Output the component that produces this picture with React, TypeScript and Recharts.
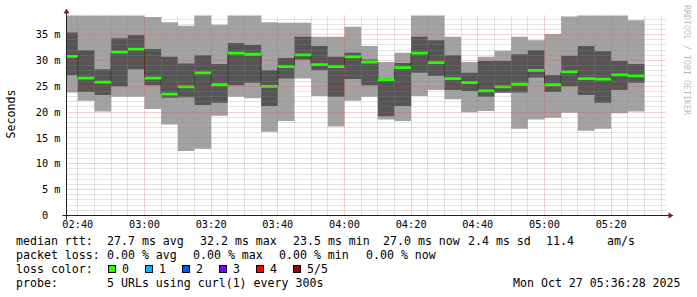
import React from 'react';
import { ComposedChart, Area, Line, XAxis, YAxis, CartesianGrid } from 'recharts';

// ---- data (5-minute bins, 5 pings each: min, 2nd, median, 4th, max) ----
const binStart = ['02:35','02:40','02:45','02:50','02:55','03:00','03:05','03:10','03:15','03:20','03:25','03:30','03:35','03:40','03:45','03:50','03:55','04:00','04:05','04:10','04:15','04:20','04:25','04:30','04:35','04:40','04:45','04:50','04:55','05:00','05:05','05:10','05:15','05:20','05:25'];
const lastBinEnd = '05:30';
const rttMax = [40,40,40,40,40,38.4,37.4,36.7,40,36.9,40,40,37.4,37.3,37.3,34.6,34.6,36.5,32.8,29.7,31.5,40,40,34.6,29.7,30.7,31.9,34.6,33.9,35.1,38.5,40,40,40,37.8];
const rttP4 = [35.4,32.0,28.3,34.3,34.9,32.2,30.7,29.4,31.0,29.3,33.4,33.0,28.1,30.5,34.6,32.8,30.7,31.5,30.2,26.5,29.5,34.6,33.9,31.0,27.6,29.9,29.9,31.2,32.0,27.2,30.9,32.8,31.8,29.9,29.3];
const rttMedian = [30.8,26.6,25.8,31.6,32.2,26.6,23.5,24.9,27.6,25.3,31.4,31.2,25.0,28.8,31.1,29.2,28.8,30.7,29.7,26.3,28.6,31.4,29.6,26.5,25.7,24.1,24.9,25.4,28.1,25.3,27.8,26.5,26.4,27.2,27.0];
const rttP2 = [27.2,23.9,23.3,25.0,28.3,25.2,22.8,22.9,21.4,21.8,25.2,25.7,21.2,26.5,30.2,28.1,23.0,26.4,25.2,19.2,21.2,27.6,27.0,24.3,24.1,23.0,23.8,23.8,26.7,23.9,25.0,23.3,21.8,24.3,25.7];
const rttMin = [23.8,22.2,20.1,23.0,23.0,20.6,17.6,12.5,12.9,19.3,23.0,22.7,16.2,18.3,26.5,23.1,17.2,22.2,23.0,18.6,18.3,23.1,24.3,22.5,20.0,20.2,23.7,16.8,18.6,18.9,19.9,16.4,16.8,19.8,20.1];

// ---- axes ----
const viewStart = 156.61; // minutes since midnight (02:36:37)
const viewEnd = 336.61;   // 05:36:37
const yMax = 38.7;
const xTickLabels = ['02:40','03:00','03:20','03:40','04:00','04:20','04:40','05:00','05:20'];
const yTicks = [0, 5, 10, 15, 20, 25, 30, 35];
const yTickLabels = ['0\u00a0\u00a0', '5 m', '10 m', '15 m', '20 m', '25 m', '30 m', '35 m'];

// ---- legend ----
const statsLine1 = [
  { x: 16, s: 'median rtt:' }, { x: 107, s: '27.7 ms avg' }, { x: 200, s: '32.2 ms max' },
  { x: 293, s: '23.5 ms min' }, { x: 383, s: '27.0 ms now' }, { x: 468, s: '2.4 ms sd' },
  { x: 546, s: '11.4' }, { x: 607, s: 'am/s' },
];
const statsLine2 = [
  { x: 16, s: 'packet loss:' }, { x: 107, s: '0.00 % avg' }, { x: 193, s: '0.00 % max' },
  { x: 279, s: '0.00 % min' }, { x: 366, s: '0.00 % now' },
];
const lossLabels = ['0', '1', '2', '3', '4', '5/5'];
const lossColors = ['#26ff00', '#00b8ff', '#0059ff', '#7e00ff', '#ff0000', '#a10000'];
const probeText = '5 URLs using curl(1) every 300s';
const dateText = 'Mon Oct 27 05:36:28 2025';

const MONO = '"DejaVu Sans Mono", monospace';
const BAND_HALF = 0.27;
const GRID_MINOR = 'rgba(143,143,143,0.5)';
const GRID_MAJOR = 'rgba(222,79,79,0.5)';

const toMin = (s: string) => {
  const [h, m] = s.split(':').map(Number);
  return h * 60 + m;
};

const rows: any[] = binStart.map((s, i) => ({
  t: toMin(s),
  smoke1: [rttMin[i], rttMax[i]],
  smoke2: [rttP2[i], rttP4[i]],
  median: rttMedian[i],
  band: [rttMedian[i] - BAND_HALF, rttMedian[i] + BAND_HALF],
}));
rows.push({ ...rows[rows.length - 1], t: toMin(lastBinEnd) });

const xTickValues = xTickLabels.map(toMin);
const majorX = xTickValues;
const minorX: number[] = [];
for (let t = Math.ceil(viewStart / 5) * 5; t < viewEnd; t += 5) if (t % 20 !== 0) minorX.push(t);
const majorY = yTicks.filter((v) => v > 0);
const minorY: number[] = [];
for (let v = 1; v < yMax; v += 1) if (v % 5 !== 0) minorY.push(v);

const vGen = (values: number[]) => (props: any) => {
  const ax = props.xAxis;
  const off = props.offset;
  return values.map((v) => {
    const p = ax && typeof ax.scale === 'function'
      ? ax.scale(v)
      : off.left + ((v - viewStart) / (viewEnd - viewStart)) * off.width;
    return Math.floor(p) + 0.5;
  });
};
const hGen = (values: number[]) => (props: any) => {
  const ax = props.yAxis;
  const off = props.offset;
  return values.map((v) => {
    const p = ax && typeof ax.scale === 'function'
      ? ax.scale(v)
      : off.top + (1 - v / yMax) * off.height;
    return Math.floor(p) + 0.5;
  });
};

const dotted = (color: string) => (p: any) => (
  <line
    key={`g-${p.x1}-${p.y1}-${p.x2}-${p.y2}`}
    x1={p.x1} y1={p.y1} x2={p.x2} y2={p.y2}
    stroke={color} strokeWidth={1} strokeDasharray="1 1" fill="none"
  />
);

const XTick = (props: any) => {
  const { x, y, payload } = props;
  const i = xTickValues.indexOf(payload.value);
  return (
    <text x={x} y={y} dy={12.5} textAnchor="middle" fontFamily={MONO} fontSize={10.3} fill="#000">
      {i >= 0 ? xTickLabels[i] : ''}
    </text>
  );
};
const YTick = (props: any) => {
  const { x, y, payload } = props;
  const i = yTicks.indexOf(payload.value);
  return (
    <text x={x} y={y} dy={3.6} textAnchor="end" fontFamily={MONO} fontSize={10.3} fill="#000">
      {i >= 0 ? yTickLabels[i] : ''}
    </text>
  );
};

const W = 697;
const H = 297;
const plotMargin = { top: 15.5, right: 30.5, bottom: 81.5, left: 66.5 };
const layer: React.CSSProperties = { position: 'absolute', left: 0, top: 0 };

export default function App() {
  return (
    <div style={{ position: 'absolute', left: 0, top: 0, width: W, height: H, background: '#fff', overflow: 'hidden' }}>
      {/* smoke + median step line */}
      <div style={layer}>
        <ComposedChart width={W} height={H} data={rows} margin={plotMargin}>
          <XAxis type="number" dataKey="t" domain={[viewStart, viewEnd]} allowDataOverflow hide />
          <YAxis type="number" domain={[0, yMax]} allowDataOverflow hide />
          <Area type="stepAfter" dataKey="smoke1" fill="#a2a2a2" fillOpacity={1} stroke="none" isAnimationActive={false} activeDot={false} />
          <Area type="stepAfter" dataKey="smoke2" fill="#555555" fillOpacity={1} stroke="none" isAnimationActive={false} activeDot={false} />
          <Line type="stepAfter" dataKey="median" stroke="#202020" strokeWidth={1} dot={false} activeDot={false} isAnimationActive={false} />
        </ComposedChart>
      </div>
      {/* median band, coloured by loss */}
      <div style={layer}>
        <ComposedChart width={W} height={H} data={rows} margin={plotMargin}>
          <XAxis type="number" dataKey="t" domain={[viewStart, viewEnd]} allowDataOverflow hide />
          <YAxis type="number" domain={[0, yMax]} allowDataOverflow hide />
          <Area type="stepAfter" dataKey="band" fill={lossColors[0]} fillOpacity={1} stroke="none" isAnimationActive={false} activeDot={false} />
        </ComposedChart>
      </div>
      {/* minor grid */}
      <div style={layer}>
        <ComposedChart width={W} height={H} data={rows} margin={plotMargin}>
          <XAxis type="number" dataKey="t" domain={[viewStart, viewEnd]} allowDataOverflow hide />
          <YAxis type="number" domain={[0, yMax]} allowDataOverflow hide />
          <CartesianGrid
            stroke={GRID_MINOR}
            strokeDasharray="1 1"
            verticalValues={minorX}
            horizontalValues={minorY}
            verticalCoordinatesGenerator={vGen(minorX)}
            horizontalCoordinatesGenerator={hGen(minorY)}
            horizontal={dotted(GRID_MINOR)}
            vertical={dotted(GRID_MINOR)}
          />
        </ComposedChart>
      </div>
      {/* major grid + tick labels */}
      <div style={layer}>
        <ComposedChart width={W} height={H} data={rows} margin={{ top: 15.5, right: 30.5, bottom: 0, left: 0 }}>
          <XAxis
            type="number" dataKey="t" domain={[viewStart, viewEnd]} allowDataOverflow
            height={81.5} ticks={xTickValues} interval={0} tick={XTick}
            axisLine={false} tickLine={false} tickSize={0} tickMargin={0}
          />
          <YAxis
            type="number" domain={[0, yMax]} allowDataOverflow
            width={66.5} ticks={yTicks} interval={0} tick={YTick}
            axisLine={false} tickLine={false} tickSize={0} tickMargin={6}
          />
          <CartesianGrid
            stroke={GRID_MAJOR}
            strokeDasharray="1 1"
            verticalValues={majorX}
            horizontalValues={majorY}
            verticalCoordinatesGenerator={vGen(majorX)}
            horizontalCoordinatesGenerator={hGen(majorY)}
            horizontal={dotted(GRID_MAJOR)}
            vertical={dotted(GRID_MAJOR)}
          />
        </ComposedChart>
      </div>
      {/* frame decorations & legend */}
      <svg width={W} height={H} style={{ ...layer, pointerEvents: 'none' }}>
        <line x1={62.5} y1={215.5} x2={670.5} y2={215.5} stroke="#1f1f1f" strokeWidth={1} />
        <line x1={66.5} y1={219.5} x2={66.5} y2={11.5} stroke="#1f1f1f" strokeWidth={1} />
        <polygon points="668.5,212.5 668.5,218.5 673.5,215.5" fill="#801f1f" />
        <polygon points="63.5,13.5 69.5,13.5 66.5,8.5" fill="#801f1f" />
        <text transform="translate(15,114) rotate(-90)" textAnchor="middle" fontFamily={MONO} fontSize={11.6} fill="#000">Seconds</text>
        <text transform="translate(684,5) rotate(90)" textAnchor="start" fontFamily={MONO} fontSize={8.3} fill="rgba(0,0,0,0.3)">RRDTOOL / TOBI OETIKER</text>
        <g fontFamily={MONO} fontSize={11.6} fill="#000">
          {statsLine1.map((d, i) => (
            <text key={'a' + i} x={d.x} y={245}>{d.s}</text>
          ))}
          {statsLine2.map((d, i) => (
            <text key={'b' + i} x={d.x} y={259}>{d.s}</text>
          ))}
          <text x={16} y={273}>loss color:</text>
          {lossLabels.map((l, i) => (
            <g key={'c' + i}>
              <rect x={108.5 + i * 37} y={265.5} width={7} height={7} fill={lossColors[i]} stroke="#000" strokeWidth={1} />
              <text x={122 + i * 37} y={273}>{l}</text>
            </g>
          ))}
          <text x={16} y={287}>probe:</text>
          <text x={107} y={287}>{probeText}</text>
          <text x={513} y={287}>{dateText}</text>
        </g>
      </svg>
    </div>
  );
}
